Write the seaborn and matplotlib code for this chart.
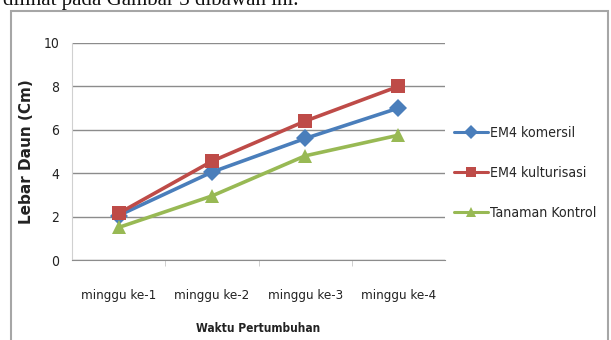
import numpy as np
import pandas as pd
import matplotlib
matplotlib.use('Agg')
import matplotlib.pyplot as plt
from matplotlib.patches import Rectangle
import seaborn as sns

# data
weeks = ['minggu ke-1', 'minggu ke-2', 'minggu ke-3', 'minggu ke-4']
em4_komersil = [2.05, 4.05, 5.6, 7.0]
em4_kulturisasi = [2.15, 4.55, 6.4, 8.0]
tanaman_kontrol = [1.5, 2.95, 4.8, 5.75]
series_names = ['EM4 komersil', 'EM4 kulturisasi', 'Tanaman Kontrol']
y_ticks = [0, 2, 4, 6, 8, 10]

df = pd.DataFrame({
    'Waktu': weeks * 3,
    'Lebar': em4_komersil + em4_kulturisasi + tanaman_kontrol,
    'Seri': [s for s in series_names for _ in weeks],
})

sns.set_style('white')
plt.rcParams['font.family'] = ['DejaVu Sans']
plt.rcParams['font.stretch'] = 'condensed'

palette = {'EM4 komersil': '#4A7EBB', 'EM4 kulturisasi': '#BE4B48',
           'Tanaman Kontrol': '#98B954'}
markers = {'EM4 komersil': 'D', 'EM4 kulturisasi': 's', 'Tanaman Kontrol': '^'}

fig = plt.figure(figsize=(6.11, 3.4), dpi=100)

# caption text cut off at the top of the screenshot
fig.text(0.005, 1 - 5 / 340, 'dilihat pada Gambar 3 dibawah ini.', family='Liberation Serif',
         fontsize=15, va='baseline', ha='left', color='#111111')

# chart frame
fig.patches.append(Rectangle((11 / 611, -0.05), 597 / 611, (340 - 11) / 340 + 0.05,
                             transform=fig.transFigure, fill=False,
                             edgecolor='#A6A6A6', linewidth=1.5))

ax = fig.add_axes([72 / 611, 80 / 340, 373 / 611, 217 / 340])
sns.lineplot(data=df, x='Waktu', y='Lebar', hue='Seri', style='Seri',
             palette=palette, markers=markers, dashes=False, sort=False,
             linewidth=2.6, markersize=9.5, markeredgewidth=0, ax=ax)

ax.set_xlim(-0.5, 3.5)
ax.set_ylim(0, 10)
ax.set_yticks(y_ticks)
ax.set_xticks([0.5, 1.5, 2.5], minor=True)
ax.yaxis.grid(True, color='#8C8C8C', linewidth=1)
ax.set_axisbelow(True)
for s in ['top', 'right']:
    ax.spines[s].set_visible(False)
ax.spines['left'].set_color('#D0D0D0')
ax.spines['bottom'].set_color('#8C8C8C')
ax.tick_params(axis='y', length=5, color='#8C8C8C', labelsize=10, labelcolor='#222222', pad=4)
ax.tick_params(axis='x', which='major', length=0, labelsize=9.5, labelcolor='#222222', pad=21)
ax.tick_params(axis='x', which='minor', bottom=True, length=4, color='#C8C8C8')

ax.set_xlabel('Waktu Pertumbuhan', fontsize=8.6, fontweight='bold', color='#222222', labelpad=14)
ax.set_ylabel('Lebar Daun (Cm)', fontsize=11, fontweight='bold', color='#222222',
              fontstretch='normal', labelpad=7)

leg = ax.legend(loc='upper left', bbox_to_anchor=(0.99, 0.678), frameon=False,
                fontsize=10.2, handlelength=2.4, handletextpad=0.15, labelspacing=1.85)
for line in leg.get_lines():
    line.set_linewidth(2.2)
    line.set_markersize(7.5)

fig.savefig('out.png', dpi=100)
